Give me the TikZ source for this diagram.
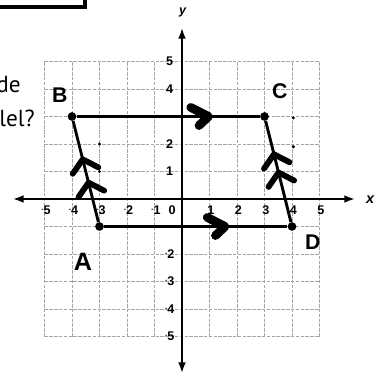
\documentclass[tikz,border=0pt]{standalone}
\usepackage{fontspec}
\setmainfont{Liberation Sans}
\newfontfamily\qfont{PT Sans}
\usepackage{tikz}
\usetikzlibrary{positioning,arrows.meta}

\newcommand{\ngt}[1]{\raisebox{0.45ex}{\scriptsize-}#1}

\begin{document}
\begin{tikzpicture}[
  >={Latex[length=11pt,width=8pt]},
  gridline/.style={draw=gray!70, dash pattern=on 3.5pt off 1.5pt, line width=0.8pt},
  axis/.style={<->, line width=2pt},
  side/.style={line width=3pt},
  vertex/.style={circle, fill=black, inner sep=0pt, minimum size=9pt},
  countdot/.style={circle, fill=black, inner sep=0pt, minimum size=3.5pt},
  tick/.style={font=\bfseries\fontsize{13}{13}\selectfont, inner sep=1pt},
  hand/.style={font=\bfseries\fontsize{22}{22}\selectfont, inner sep=0pt},
  pen/.style={line width=6pt, line cap=round, line join=round},
  fatpen/.style={line width=9pt, line cap=round, line join=round}
]

\useasboundingbox (-6.618,-6.509) rectangle (7.236,7.236);

% --- cut-off box and question text ---
\draw[line width=4pt] (-6.7,6.98) -- (-3.53,6.98) -- (-3.53,7.3);
\node[anchor=base east, font=\qfont\fontsize{24}{24}\selectfont, inner sep=0pt] (txtde) at (-5.86,3.89) {de};
\node[anchor=base east, font=\qfont\fontsize{24}{24}\selectfont, inner sep=0pt] (txtlel) at (-5.345,2.62) {lel?};

% --- GRID ---
\draw[gridline] (-5,-5) grid (5,5);

% --- AXES ---
\coordinate (xl) at (-6.15,0);
\coordinate (xr) at (6.29,0);
\coordinate (yb) at (0,-6.33);
\coordinate (yt) at (0,6.22);
\draw[axis] (xl) -- (xr);
\draw[axis] (yb) -- (yt);
\node[font=\itshape\bfseries\fontsize{15}{15}\selectfont] (xlab) at (6.84,-0.02) {x};
\node[font=\itshape\bfseries\fontsize{13}{13}\selectfont] (ylab) at (0.02,6.78) {y};

% --- tick labels ---
\foreach \i/\t in {-5/\ngt5,-4/\ngt4,-3/\ngt3,-2/\ngt2,-1/\ngt1,1/1,2/2,3/3,4/4,5/5}
  \node[tick] (xt\i) at (\i+0.05,-0.42) {\t};
\node[tick] (xt0) at (-0.36,-0.42) {0};
\foreach \j/\t in {5/5,4/4,2/2,1/1,-2/\ngt2,-3/\ngt3,-4/\ngt4,-5/\ngt5}
  \node[tick] (yt\j) at (-0.45,\j) {\t};

% --- counting dots ---
\node[countdot] (cd1) at (-3,2) {};
\node[countdot] (cd2) at (-3,1) {};
\node[countdot] (cd3) at (4.05,2.95) {};
\node[countdot] (cd4) at (4.05,1.9) {};

% --- PARALLELOGRAM ---
\node[vertex] (A) at (-3,-1) {};
\node[vertex] (B) at (-4,3) {};
\node[vertex] (C) at (3,3) {};
\node[vertex] (D) at (4,-1) {};

\draw[side] (A) -- (B) coordinate[pos=0.39] (ab1) coordinate[pos=0.62] (ab2);
\draw[side] (D) -- (C) coordinate[pos=0.49] (dc1) coordinate[pos=0.67] (dc2);
\draw[side] (B) -- (C) coordinate[pos=0.72] (bc1);
\draw[side] (A) -- (D) coordinate[pos=0.66] (ad1);

% --- parallel marks ---
\foreach \p in {ab1,ab2,dc1,dc2}
  \draw[pen, shift={(\p)}, rotate=104.04] (-0.42,-0.48) -- (0,0) -- (-0.42,0.48);
\foreach \p in {bc1,ad1}
  \draw[fatpen, shift={(\p)}] (-0.65,0.33) -- (0,0) -- (-0.35,-0.33);

% --- vertex letters ---
\node[hand] (lblB) at (-4.44,3.78) {B};
\node[hand] (lblC) at (3.56,3.93) {C};
\node[hand, font=\bfseries\fontsize{26}{26}\selectfont] (lblA) at (-3.6,-2.29) {A};
\node[hand] (lblD) at (4.76,-1.56) {D};

\end{tikzpicture}
\end{document}
